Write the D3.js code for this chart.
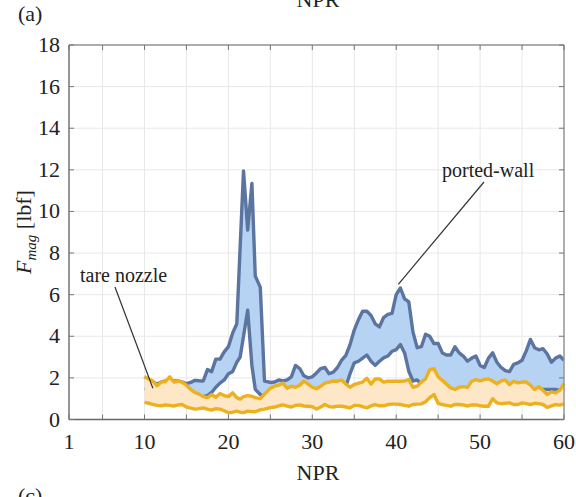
<!DOCTYPE html>
<html><head><meta charset="utf-8">
<script src="https://cdn.jsdelivr.net/npm/d3@7"></script>
<style>body{margin:0;background:#fff}svg{display:block}</style>
</head><body>
<svg id="c" width="576" height="497"></svg>
<script>
// NPR sample positions
const npr = [10,10.5,11,11.5,12,12.5,13,13.5,14,14.5,15,15.5,16,16.5,17,17.5,18,18.5,19,19.5,20,20.5,21,
  21.4,21.8,22.3,22.8,23.2,23.8,24.3,
  25,25.5,26,26.5,27,27.5,28,28.5,29,29.5,30,30.5,31,31.5,32,32.5,33,33.5,34,34.5,35,35.5,36,36.5,37,37.5,38,38.5,39,39.5,
  40,40.5,41,41.5,42,42.5,43,43.5,44,44.5,45,45.5,46,46.5,47,47.5,48,48.5,49,49.5,50,50.5,51,51.5,52,52.5,53,53.5,54,54.5,
  55,55.5,56,56.5,57,57.5,58,58.5,59,59.5,60];
// ported-wall envelope (upper / lower)
const portedUpper = [2.05,1.9,1.8,1.7,1.8,1.85,1.9,1.85,1.85,1.8,1.72,1.78,1.88,1.86,1.85,2.4,2.3,2.9,2.9,3.25,3.5,4.15,4.6,
  8.3,11.95,9.1,11.35,6.9,6.35,1.85,
  1.78,1.8,1.9,1.85,1.9,2.05,2.6,2.45,2.1,2.0,2.05,2.24,2.45,2.5,2.2,2.28,2.5,2.85,3.08,3.6,4.3,4.8,5.2,5.2,5.0,4.6,4.45,4.9,5.05,5.1,
  6.0,6.32,5.8,5.65,4.2,3.45,3.5,4.1,4.0,3.65,3.65,3.2,3.1,3.1,3.5,3.2,3.05,2.8,2.95,3.05,2.6,2.5,2.95,3.2,2.75,2.5,2.35,2.3,2.65,2.72,
  2.85,3.3,3.85,3.45,3.35,3.4,3.15,2.75,2.95,3.05,2.85];
const portedLower = [1.5,1.45,1.4,1.35,1.4,1.4,1.45,1.4,1.4,1.35,1.3,1.2,1.15,1.1,1.1,1.15,1.3,1.55,1.75,1.9,2.2,2.3,2.75,
  3.0,4.0,5.25,2.6,1.45,1.2,1.1,
  1.3,1.45,1.4,1.5,1.3,1.35,1.4,1.45,1.6,1.5,1.35,1.3,1.4,1.55,1.6,1.65,1.7,1.7,1.6,2.2,2.72,2.8,2.95,3.1,2.8,2.6,2.8,2.96,3.05,3.28,
  3.36,3.6,3.2,2.32,1.85,1.9,1.7,1.8,2.2,2.0,1.75,1.6,1.5,1.35,1.3,1.4,1.35,1.5,1.65,1.75,1.65,1.8,1.7,1.55,1.6,1.75,1.5,1.65,1.6,1.6,
  1.65,1.5,1.3,1.4,1.44,1.44,1.44,1.44,1.44,1.4,1.5];
// tare nozzle envelope (upper / lower)
const tareUpper = [2.05,1.95,1.85,1.62,1.8,1.82,2.05,1.8,1.85,1.78,1.65,1.45,1.3,1.22,1.1,1.05,1.2,1.07,1.25,1.15,1.1,1.28,1.05,
  0.98,1.1,1.15,1.12,1.05,1.0,1.22,
  1.5,1.6,1.65,1.75,1.5,1.6,1.55,1.65,1.85,1.7,1.55,1.48,1.6,1.75,1.8,1.85,1.84,1.9,1.7,1.55,1.68,1.75,1.8,1.98,1.7,1.95,1.95,1.8,1.84,1.84,
  1.84,1.84,1.85,1.92,1.55,1.6,1.8,1.95,2.4,2.45,2.05,1.88,1.7,1.52,1.44,1.55,1.58,1.55,1.84,1.92,1.86,1.92,1.95,1.85,1.72,1.85,1.9,1.68,1.84,1.76,
  1.8,1.8,1.65,1.44,1.58,1.4,1.2,1.33,1.28,1.4,1.72];
const tareLower = [0.82,0.78,0.73,0.68,0.66,0.7,0.68,0.65,0.7,0.72,0.6,0.55,0.5,0.52,0.56,0.5,0.45,0.52,0.5,0.42,0.32,0.35,0.4,
  0.35,0.33,0.4,0.38,0.37,0.47,0.5,
  0.57,0.6,0.66,0.7,0.64,0.6,0.68,0.7,0.65,0.64,0.62,0.5,0.6,0.72,0.62,0.6,0.64,0.64,0.6,0.56,0.68,0.68,0.62,0.56,0.65,0.72,0.66,0.66,0.72,0.74,
  0.74,0.72,0.68,0.64,0.72,0.74,0.75,0.85,1.05,1.2,0.78,0.72,0.68,0.64,0.72,0.72,0.7,0.65,0.7,0.7,0.66,0.64,0.64,1.0,0.8,0.76,0.78,0.8,0.72,0.72,
  0.8,0.76,0.72,0.78,0.76,0.72,0.58,0.65,0.72,0.69,0.75];
const xTicks = [1,5,10,15,20,25,30,35,40,45,50,55,60];
const xLabels = [1,10,20,30,40,50,60];
const yTicks = [0,2,4,6,8,10,12,14,16,18];

const FONT = "'Liberation Serif','Times New Roman','DejaVu Serif',serif";
const svg = d3.select("#c").attr("font-family",FONT);
const L=69,R=564,T=45,B=419.5;
const x = d3.scaleLinear().domain([1,60]).range([L,R]);
const y = d3.scaleLinear().domain([0,18]).range([B,T]);

// grid
const g = svg.append("g");
g.selectAll(".gx").data(xTicks).join("line").attr("x1",d=>x(d)).attr("x2",d=>x(d)).attr("y1",T).attr("y2",B).attr("stroke","#e8e8e8").attr("stroke-width",1);
g.selectAll(".gy").data(yTicks).join("line").attr("y1",d=>y(d)).attr("y2",d=>y(d)).attr("x1",L).attr("x2",R).attr("stroke","#e8e8e8").attr("stroke-width",1);

const idx = d3.range(npr.length);
const band = (up,lo)=>d3.area().x(i=>x(npr[i])).y0(i=>y(lo[i])).y1(i=>y(up[i]));
const line = arr=>d3.line().x(i=>x(npr[i])).y(i=>y(arr[i]));

svg.append("path").attr("d",band(portedUpper,portedLower)(idx)).attr("fill","#b7d3f3");
[portedUpper,portedLower].forEach(a=>svg.append("path").attr("d",line(a)(idx)).attr("fill","none").attr("stroke","#5b74a0").attr("stroke-width",3.4).attr("stroke-linejoin","round"));
svg.append("path").attr("d",band(tareUpper,tareLower)(idx)).attr("fill","#fde7c6");
[tareUpper,tareLower].forEach(a=>svg.append("path").attr("d",line(a)(idx)).attr("fill","none").attr("stroke","#edb120").attr("stroke-width",3.4).attr("stroke-linejoin","round"));

// axes box
const ax = svg.append("g");
ax.append("line").attr("x1",L).attr("x2",R).attr("y1",T).attr("y2",T).attr("stroke","#666");
ax.append("line").attr("x1",R).attr("x2",R).attr("y1",T).attr("y2",B).attr("stroke","#999").attr("stroke-width",1.5);
ax.append("line").attr("x1",L).attr("x2",L).attr("y1",T).attr("y2",B).attr("stroke","#777").attr("stroke-width",1.5);
ax.append("line").attr("x1",L).attr("x2",R).attr("y1",B).attr("y2",B).attr("stroke","#666").attr("stroke-width",1.5);
const tl=5;
ax.selectAll(".tb").data(xTicks).join("line").attr("x1",d=>x(d)).attr("x2",d=>x(d)).attr("y1",B).attr("y2",B-tl).attr("stroke","#777");
ax.selectAll(".tt").data(xTicks).join("line").attr("x1",d=>x(d)).attr("x2",d=>x(d)).attr("y1",T).attr("y2",T+tl).attr("stroke","#777");
ax.selectAll(".tlf").data(yTicks).join("line").attr("y1",d=>y(d)).attr("y2",d=>y(d)).attr("x1",L).attr("x2",L+tl).attr("stroke","#777");
ax.selectAll(".trt").data(yTicks).join("line").attr("y1",d=>y(d)).attr("y2",d=>y(d)).attr("x1",R).attr("x2",R-tl).attr("stroke","#777");

ax.selectAll(".xl").data(xLabels).join("text").attr("x",d=>x(d)).attr("y",B+29).attr("text-anchor","middle").attr("font-size",22).attr("fill","#222").text(d=>d);
ax.selectAll(".yl").data(yTicks).join("text").attr("x",L-9).attr("y",d=>y(d)+7).attr("text-anchor","end").attr("font-size",22).attr("fill","#222").text(d=>d);

// axis titles
svg.append("text").attr("x",318).attr("y",480).attr("text-anchor","middle").attr("font-size",22).attr("fill","#222").text("NPR");
svg.append("text").attr("x",318).attr("y",7).attr("text-anchor","middle").attr("font-size",22).attr("fill","#222").text("NPR");
svg.append("text").attr("x",18).attr("y",21).attr("font-size",22).attr("fill","#222").text("(a)");
svg.append("text").attr("x",18).attr("y",503).attr("font-size",22).attr("fill","#222").text("(c)");
const yl = svg.append("text").attr("transform","translate(31,232) rotate(-90)").attr("text-anchor","middle").attr("font-size",22).attr("fill","#222");
yl.append("tspan").attr("font-style","italic").text("F");
yl.append("tspan").attr("font-style","italic").attr("font-size",15).attr("dy",5).text("mag");
yl.append("tspan").attr("dy",-5).text(" [lbf]");

// annotations
svg.append("line").attr("x1",115).attr("y1",287).attr("x2",x(11)).attr("y2",y(1.5)).attr("stroke","#333").attr("stroke-width",1.2);
svg.append("text").attr("x",80).attr("y",282).attr("font-size",20).attr("fill","#222").text("tare nozzle");
svg.append("line").attr("x1",484).attr("y1",182).attr("x2",x(40.25)).attr("y2",y(6.5)).attr("stroke","#333").attr("stroke-width",1.2);
svg.append("text").attr("x",442).attr("y",177).attr("font-size",20).attr("fill","#222").text("ported-wall");
</script>
</body></html>
